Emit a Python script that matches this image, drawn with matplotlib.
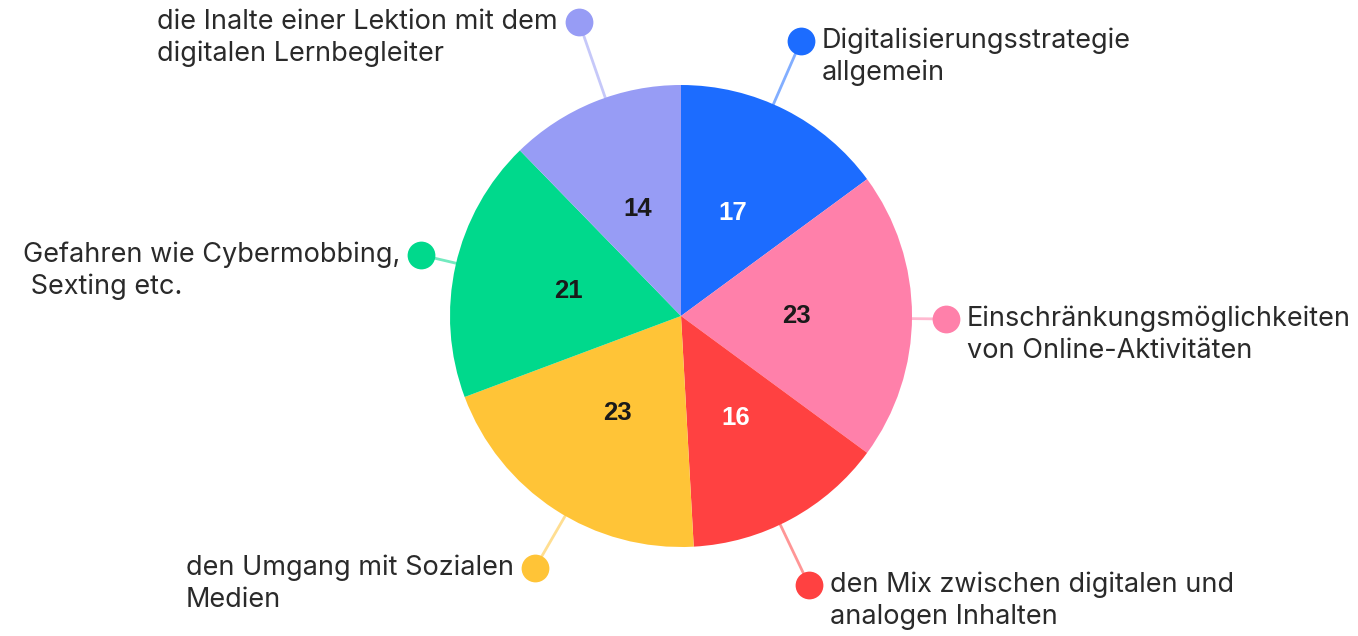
import numpy as np
import matplotlib.pyplot as plt

# Daten
labels = ["Digitalisierungsstrategie\nallgemein",
          "Einschränkungsmöglichkeiten\nvon Online-Aktivitäten",
          "den Mix zwischen digitalen und\nanalogen Inhalten",
          "den Umgang mit Sozialen\nMedien",
          "Gefahren wie Cybermobbing,\n Sexting etc.",
          "die Inalte einer Lektion mit dem\ndigitalen Lernbegleiter"]
values = [17, 23, 16, 23, 21, 14]
colors = ["#1c6cff", "#ff80aa", "#ff4141", "#ffc437", "#00d98c", "#979cf5"]
value_colors = ["white", "#1a1a1a", "white", "#1a1a1a", "#1a1a1a", "#1a1a1a"]

# Layout (Pixel, y von oben)
W, H = 1358, 636
cx, cy, R = 681, 316, 231
anchors = [(801, 41), (946, 319), (809, 585), (535, 568), (421, 255), (579, 22)]
text_side = ["right", "right", "right", "left", "left", "left"]

fig = plt.figure(figsize=(W / 100, H / 100), dpi=100)
ax = fig.add_axes([0, 0, 1, 1])

ax.pie(values, colors=colors, startangle=90, counterclock=False,
       center=(cx, H - cy), radius=R, labels=[str(v) for v in values],
       labeldistance=0.5, wedgeprops=dict(linewidth=0),
       textprops=dict(fontsize=18.5, fontweight="bold", family="Liberation Sans",
                      ha="center", va="center"))
for t, c in zip(ax.texts, value_colors):
    t.set_color(c)

for lab, col, (ax_px, ay_px), side in zip(labels, colors, anchors, text_side):
    dx, dy = ax_px - cx, ay_px - cy
    d = np.hypot(dx, dy)
    sx, sy = cx + dx / d * R, cy + dy / d * R
    ax.plot([sx, ax_px], [H - sy, H - ay_px], color=col, alpha=0.55, lw=2, zorder=1)
    ax.plot(ax_px, H - ay_px, "o", color=col, markersize=20, markeredgewidth=0, zorder=3)
    if side == "right":
        ax.text(ax_px + 21, H - ay_px - 16, lab, ha="left", va="center",
                fontsize=19.5, color="#2a2a2a", family="Inter", linespacing=1.28)
    else:
        ax.text(ax_px - 21, H - ay_px - 16, lab, ha="right", va="center", multialignment="left",
                fontsize=19.5, color="#2a2a2a", family="Inter", linespacing=1.28)

ax.set_xlim(0, W)
ax.set_ylim(0, H)
ax.set_aspect("equal")
ax.axis("off")

fig.savefig("out.png", dpi=100)
